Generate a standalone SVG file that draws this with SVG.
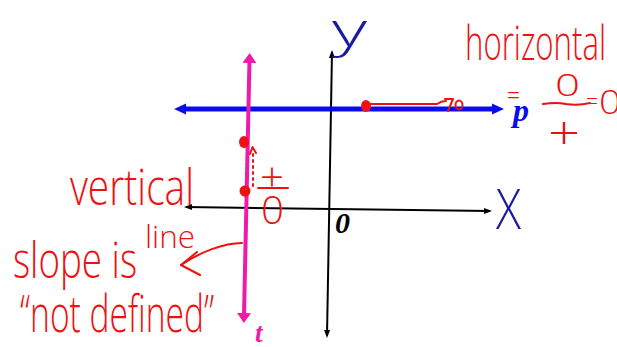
<svg xmlns="http://www.w3.org/2000/svg" width="617" height="347" viewBox="0 0 617 347">
  <defs>
    <style>
      .axis { stroke: #000; stroke-width: 2; fill: none; }
      .hand { fill: #ee1111; font-family: "Open Sans", "Liberation Sans", sans-serif; font-weight: 300; }
      .ink { stroke: #ee1111; stroke-width: 2; fill: none; stroke-linecap: round; stroke-linejoin: round; }
      .lbl { font-family: "Liberation Serif", "DejaVu Serif", serif; font-style: italic; font-weight: bold; }
      .axlbl { fill: #1a1aa0; font-family: "Open Sans", "Liberation Sans", sans-serif; font-weight: 300; }
    </style>
    <marker id="arBlack" viewBox="0 0 8 8" refX="6" refY="4" markerWidth="8" markerHeight="8" markerUnits="userSpaceOnUse" orient="auto-start-reverse">
      <path d="M0,1 L8,4 L0,7 z" fill="#000"/>
    </marker>
    <marker id="arBlue" viewBox="0 0 12 12" refX="4" refY="6" markerWidth="12" markerHeight="12" markerUnits="userSpaceOnUse" orient="auto-start-reverse">
      <path d="M0,0.5 L12,6 L0,11.5 z" fill="#0a0af0"/>
    </marker>
    <marker id="arPink" viewBox="0 0 10 14" refX="3" refY="7" markerWidth="10" markerHeight="14" markerUnits="userSpaceOnUse" orient="auto-start-reverse">
      <path d="M0,0 L10,7 L0,14 z" fill="#f01aa8"/>
    </marker>
  </defs>
  <rect width="617" height="347" fill="#fff"/>

  <g id="connectors">
    <!-- axes -->
    <path class="axis" d="M186,207 L490,211" marker-start="url(#arBlack)" marker-end="url(#arBlack)"/>
    <path class="axis" d="M332,52 L327,336" marker-start="url(#arBlack)" marker-end="url(#arBlack)"/>
    <!-- blue horizontal line p -->
    <path d="M182,109 L496,109" stroke="#0a0af0" stroke-width="5" fill="none" marker-start="url(#arBlue)" marker-end="url(#arBlue)"/>
    <!-- pink vertical line t -->
    <path d="M249.5,60 L244,316" stroke="#f01aa8" stroke-width="4" fill="none" marker-start="url(#arPink)" marker-end="url(#arPink)"/>
    <!-- red movement arrow on p -->
    <path class="ink" stroke-width="2.5" d="M368,104 L437,104 Q441,101 446,101"/>
    <path class="ink" stroke-width="2.5" d="M445,99 L453,99 L448,111"/>
    <ellipse cx="459" cy="105" rx="3.5" ry="4.5" class="ink" stroke-width="2.5"/>
    <!-- red dotted rise arrow on t -->
    <path class="ink" d="M253,186 L253,151" stroke-dasharray="2 4"/>
    <path class="ink" d="M250,154 L252.5,147 L256,153"/>
    <!-- curved arrow pointing to t -->
    <path class="ink" d="M242,243 C224,243 200,252 181,265"/>
    <path class="ink" d="M197,252 L181,265 L200,275"/>
  </g>

  <g id="points">
    <ellipse cx="366" cy="106" rx="5" ry="6" fill="#ee1111"/>
    <ellipse cx="244" cy="142" rx="5" ry="6" fill="#ee1111"/>
    <ellipse cx="245" cy="191" rx="5.5" ry="5.5" fill="#ee1111"/>
  </g>

  <g id="axis-labels">
    <text class="axlbl" x="332" y="47" font-size="48" textLength="35" lengthAdjust="spacingAndGlyphs">y</text>
    <text class="axlbl" x="496" y="229" font-size="56" textLength="25" lengthAdjust="spacingAndGlyphs">X</text>
    <text class="lbl" x="335" y="233" font-size="30" fill="#000">0</text>
    <text class="lbl" x="513" y="121" font-size="32" fill="#0a0af0">p</text>
    <text class="lbl" x="255" y="342" font-size="27" fill="#f01aa8">t</text>
  </g>

  <g id="horizontal-note">
    <text class="hand" x="465" y="60" font-size="48" textLength="141" lengthAdjust="spacingAndGlyphs">horizontal</text>
    <text class="hand" x="507" y="104" font-size="26" textLength="13" lengthAdjust="spacingAndGlyphs">=</text>
    <text class="hand" x="555" y="96" font-size="32" textLength="25" lengthAdjust="spacingAndGlyphs">0</text>
    <path class="ink" d="M543,104 Q556,102 566,104 Q578,106 590,103"/>
    <text class="hand" x="586" y="110" font-size="24" textLength="12" lengthAdjust="spacingAndGlyphs">=</text>
    <text class="hand" x="599" y="114" font-size="33" textLength="22" lengthAdjust="spacingAndGlyphs">0</text>
    <text class="hand" x="548" y="149" font-size="46" textLength="32" lengthAdjust="spacingAndGlyphs">+</text>
  </g>

  <g id="vertical-note">
    <text class="hand" x="260" y="191" font-size="40" textLength="24" lengthAdjust="spacingAndGlyphs">+</text>
    <path class="ink" d="M258,188 L288,188"/>
    <text class="hand" x="261" y="224" font-size="38" textLength="23" lengthAdjust="spacingAndGlyphs">0</text>
    <text class="hand" x="70" y="205" font-size="50" textLength="124" lengthAdjust="spacingAndGlyphs">vertical</text>
    <text class="hand" x="145" y="248" font-size="32" textLength="50" lengthAdjust="spacingAndGlyphs">line</text>
    <text class="hand" x="13" y="278" font-size="50" textLength="124" lengthAdjust="spacingAndGlyphs">slope is</text>
    <text class="hand" x="20" y="332" font-size="52" textLength="194" lengthAdjust="spacingAndGlyphs">“not defined”</text>
  </g>
</svg>
